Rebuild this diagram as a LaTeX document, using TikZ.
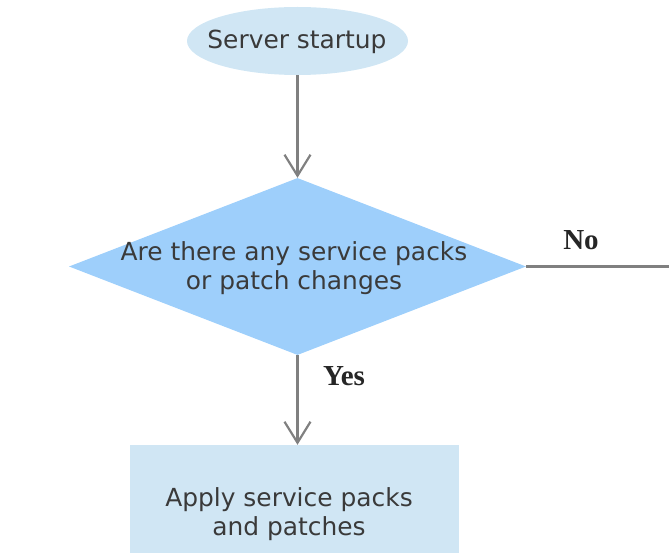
\documentclass[tikz,border=0pt]{standalone}
\usepackage{fontspec}
\setmainfont{Liberation Serif}
\newfontfamily\dvsans{DejaVu Sans}
\usetikzlibrary{shapes.geometric,arrows.meta}
\definecolor{paleblue}{HTML}{D0E6F4}
\definecolor{diamblue}{HTML}{9ECFFB}
\definecolor{linegray}{HTML}{808080}
\definecolor{txtgray}{HTML}{3A3A3A}
\tikzset{
  flowtxt/.style={font=\dvsans\fontsize{24.9}{28.5}\selectfont, text=txtgray, align=center, inner sep=0pt},
  startnode/.style={ellipse, fill=paleblue, minimum width=221pt, minimum height=68pt, inner sep=0pt},
  decnode/.style={diamond, fill=diamblue, minimum width=457pt, minimum height=177pt, inner sep=0pt},
  procnode/.style={rectangle, fill=paleblue, minimum width=329pt, minimum height=134pt, inner sep=0pt},
  conn/.style={draw=linegray, line width=2.2pt},
  arr/.style={conn, -{Straight Barb[length=21pt,width=26pt]}},
  edgelbl/.style={font=\bfseries\fontsize{29}{32}\selectfont, text=black!85, inner sep=0pt}
}
\begin{document}
\begin{tikzpicture}[x=1pt,y=-1pt]
\useasboundingbox (0,0) rectangle (669,553);
\clip (0,0) rectangle (669,553);
\node[startnode] (start) at (297.5,41) {};
\node[flowtxt] (startt) at (297,42) {Server startup};
\node[decnode] (q) at (297.5,266.5) {};
\node[flowtxt] (qt) at (294,268) {Are there any service packs\\or patch changes};
\node[procnode] (apply) at (294.5,512) {};
\node[flowtxt] (applyt) at (289,514) {Apply service packs\\and patches};
\coordinate (noend) at (669,266.5);
\draw[arr] (start.south) -- (q.north);
\draw[arr] (q.south) -- (q.south |- apply.north);
\draw[conn] (q.east) -- (noend);
\node[edgelbl] (nolbl) at (581,240) {No};
\node[edgelbl] (yeslbl) at (344,376) {Yes};
\end{tikzpicture}
\end{document}
